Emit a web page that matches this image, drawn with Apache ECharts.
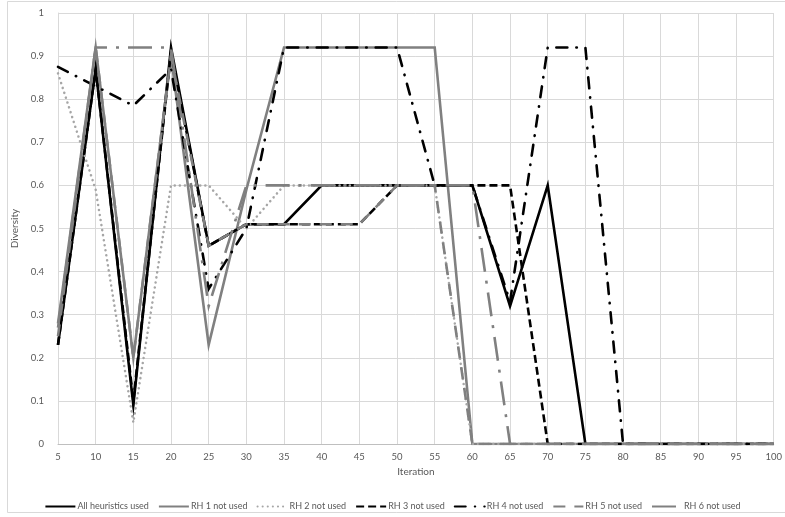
<!DOCTYPE html>
<html><head><meta charset="utf-8">
<script src="https://cdn.jsdelivr.net/npm/echarts@6/dist/echarts.min.js"></script>
<style>html,body{margin:0;padding:0;background:#fff}#c{width:785px;height:517px}</style>
</head><body><div id="c"></div>
<script>
const iterations = [5,10,15,20,25,30,35,40,45,50,55,60,65,70,75,80,85,90,95,100];
const seriesNames = ['All heuristics used','RH 1 not used','RH 2 not used','RH 3 not used','RH 4 not used','RH 5 not used','RH 6 not used'];
const allUsed = [0.23,0.87,0.09,0.92,0.46,0.51,0.51,0.60,0.60,0.60,0.60,0.60,0.32,0.60,0,0,0,0,0,0];
const rh1 = [0.28,0.92,0.20,0.90,0.23,0.59,0.92,0.92,0.92,0.92,0.92,0,0,0,0,0,0,0,0,0];
const rh2 = [0.86,0.59,0.05,0.60,0.60,0.50,0.60,0.60,0.60,0.60,0.60,0,0,0,0,0,0,0,0,0];
const rh3 = [0.23,0.87,0.10,0.91,0.46,0.51,0.51,0.51,0.51,0.60,0.60,0.60,0.60,0,0,0,0,0,0,0];
const rh4 = [0.875,0.83,0.785,0.87,0.36,0.50,0.92,0.92,0.92,0.92,0.60,0.60,0.33,0.92,0.92,0,0,0,0,0];
const rh5 = [0.25,0.92,0.20,0.90,0.46,0.51,0.51,0.51,0.51,0.60,0.60,0,0,0,0,0,0,0,0,0];
const rh6 = [0.27,0.92,0.92,0.92,0.32,0.60,0.60,0.60,0.60,0.60,0.60,0.60,0,0,0,0,0,0,0,0];
const yTicks = [0,0.1,0.2,0.3,0.4,0.5,0.6,0.7,0.8,0.9,1];

const allData = [allUsed,rh1,rh2,rh3,rh4,rh5,rh6];
const styles = [
  {color:'#000000', width:2.6, type:'solid'},
  {color:'#808080', width:2.6, type:'solid'},
  {color:'#a6a6a6', width:2.5, type:[0.1,5], cap:'round'},
  {color:'#000000', width:2.6, type:[8,4]},
  {color:'#000000', width:2.6, type:[11,9,0.5,9], cap:'round'},
  {color:'#808080', width:2.6, type:[12,9]},
  {color:'#808080', width:2.6, type:[24,9,3,9]}
];
const FONT = 'Lato,"Open Sans",sans-serif';
const chart = echarts.init(document.getElementById('c'), null, {renderer:'canvas'});
chart.setOption({
  animation:false,
  backgroundColor:'#ffffff',
  graphic:[{type:'rect', shape:{x:7.5,y:1.5,width:800,height:511}, style:{fill:null, stroke:'#d9d9d9', lineWidth:1}, silent:true}],
  grid:{left:58, right:8, top:13, bottom:73},
  xAxis:{type:'value', min:5, max:100, interval:5,
    name:'Iteration', nameLocation:'middle', nameGap:19,
    nameTextStyle:{color:'#595959', fontSize:10, fontFamily:FONT},
    axisLine:{show:true, lineStyle:{color:'#bfbfbf', width:1}},
    axisTick:{show:false},
    axisLabel:{color:'#595959', fontSize:9.5, fontFamily:FONT, margin:8},
    splitLine:{show:true, lineStyle:{color:'#d9d9d9', width:1}}},
  yAxis:{type:'value', min:0, max:1, interval:0.1,
    name:'Diversity', nameLocation:'middle', nameGap:31,
    nameTextStyle:{color:'#595959', fontSize:10, fontFamily:FONT},
    axisLine:{show:true, lineStyle:{color:'#d9d9d9', width:1}},
    axisTick:{show:false},
    axisLabel:{color:'#595959', fontSize:9.5, fontFamily:FONT, margin:14,
      formatter:v=>{const t=yTicks.find(q=>Math.abs(q-v)<1e-6);return t===undefined?'':String(+t.toFixed(1));}},
    splitLine:{show:true, lineStyle:{color:'#d9d9d9', width:1}}},
  legend:{top:497, left:'center', itemWidth:30, itemHeight:10, itemGap:9,
    itemStyle:{opacity:0, borderWidth:0},
    textStyle:{color:'#595959', fontSize:9, fontFamily:FONT, padding:[0,0,0,-3]},
    data:seriesNames},
  series: allData.map((d,i)=>({
    name:seriesNames[i], type:'line', showSymbol:false, symbol:'none',
    data: iterations.map((x,j)=>[x,d[j]]),
    lineStyle:{color:styles[i].color, width:styles[i].width, type:styles[i].type, cap:styles[i].cap||'butt', join:'miter'},
    itemStyle:{color:styles[i].color},
    z:2+i
  }))
});
</script></body></html>
